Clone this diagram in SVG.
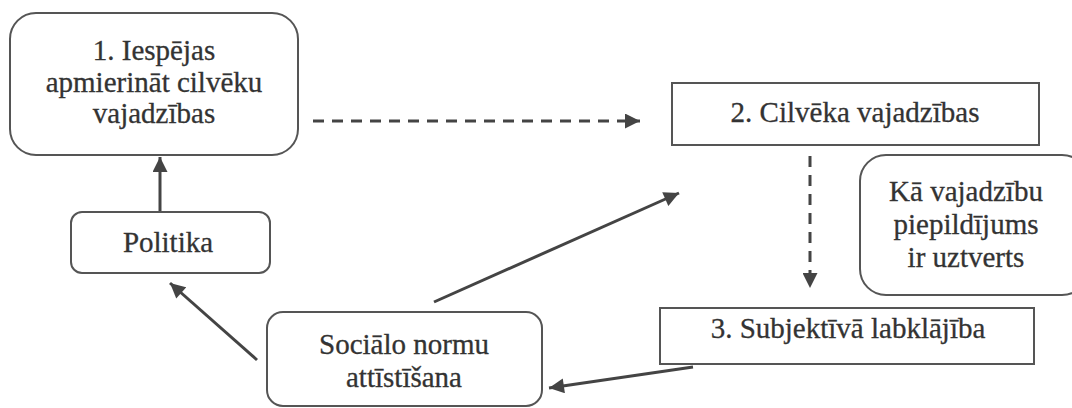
<svg xmlns="http://www.w3.org/2000/svg" width="1072" height="408" viewBox="0 0 1072 408">
  <defs>
    <marker id="head" viewBox="0 0 10 10" refX="10" refY="5" markerWidth="5.5" markerHeight="5" orient="auto" markerUnits="strokeWidth">
      <path d="M0,0 L10,5 L0,10 Z" fill="#444"/>
    </marker>
    <style>
      .box { fill: #fff; stroke: #555; stroke-width: 2; }
      .lbl { font-family: "Liberation Serif", "Times New Roman", serif; font-size: 29px; fill: #333; stroke: #333; stroke-width: 0.3; text-anchor: middle; }
      .link { fill: none; stroke: #444; stroke-width: 3; marker-end: url(#head); }
      .dash { stroke-dasharray: 11 8; }
    </style>
  </defs>
  <rect width="1072" height="408" fill="#fff"/>

  <g id="connectors">
    <path class="link" d="M160,215 L160,157"/>
    <path class="link dash" d="M313,121 L640,121"/>
    <path class="link dash" d="M810,156 L810,288"/>
    <path class="link" d="M693,367 L549,388"/>
    <path class="link" d="M257,360 L170,283"/>
    <path class="link" d="M434,302 L679,193"/>
  </g>

  <g id="node-iespejas">
    <rect class="box" x="10" y="13" width="288" height="142" rx="26"/>
    <text class="lbl" x="154" y="60">1. Iespējas</text>
    <text class="lbl" x="154" y="92">apmierināt cilvēku</text>
    <text class="lbl" x="154" y="123">vajadzības</text>
  </g>

  <g id="node-politika">
    <rect class="box" x="71" y="212" width="199" height="61" rx="11"/>
    <text class="lbl" x="168" y="252">Politika</text>
  </g>

  <g id="node-vajadzibas">
    <rect class="box" x="672" y="83" width="367" height="62"/>
    <text class="lbl" x="855" y="122">2. Cilvēka vajadzības</text>
  </g>

  <g id="node-uztverts">
    <rect class="box" x="860" y="155" width="228" height="140" rx="26"/>
    <text class="lbl" x="966" y="201">Kā vajadzību</text>
    <text class="lbl" x="966" y="234">piepildījums</text>
    <text class="lbl" x="966" y="267">ir uztverts</text>
  </g>

  <g id="node-labklajiba">
    <rect class="box" x="660" y="308" width="374" height="56"/>
    <text class="lbl" x="848" y="338">3. Subjektīvā labklājība</text>
  </g>

  <g id="node-normas">
    <rect class="box" x="267" y="312" width="275" height="94" rx="16"/>
    <text class="lbl" x="404" y="354">Sociālo normu</text>
    <text class="lbl" x="404" y="387">attīstīšana</text>
  </g>
</svg>
